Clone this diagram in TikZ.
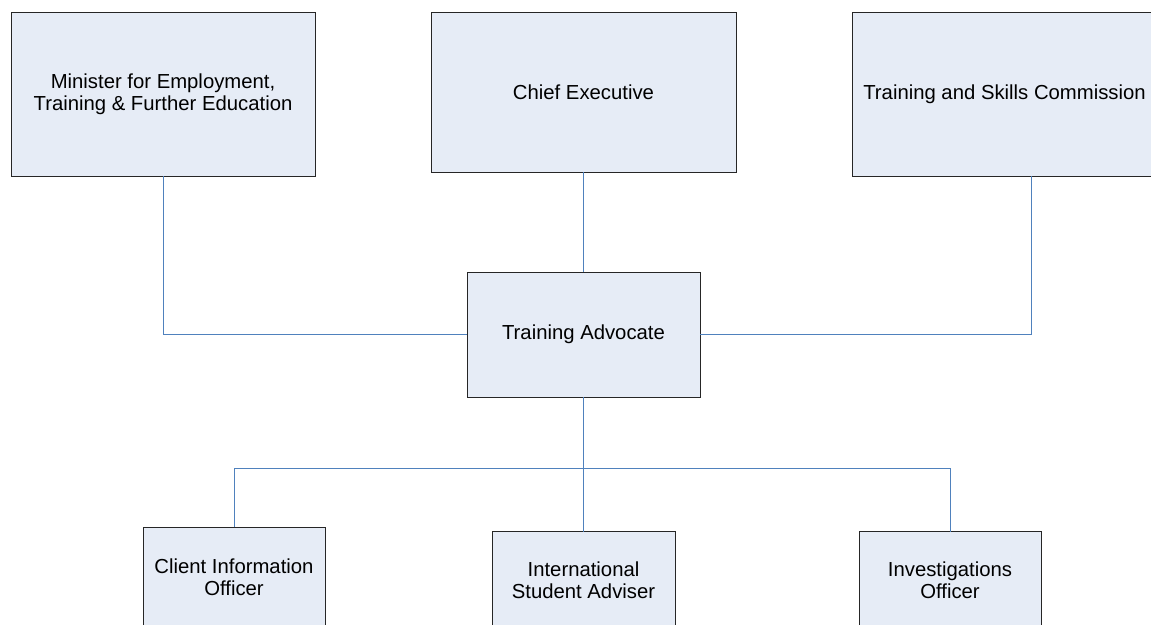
\documentclass[tikz,border=0pt]{standalone}
\usepackage{fontspec}
\setmainfont{Liberation Sans}
\definecolor{boxfill}{HTML}{E6ECF6}
\definecolor{linkblue}{HTML}{4F81BD}
\definecolor{boxline}{HTML}{262626}
\begin{document}
\begin{tikzpicture}[x=1pt,y=-1pt,
  orgbox/.style={draw=boxline,fill=boxfill,line width=1pt,inner sep=0pt,outer sep=0pt,
    align=center,font=\fontsize{20.3}{22}\selectfont},
  link/.style={draw=linkblue,line width=0.9pt}]
\useasboundingbox[fill=white] (0,0) rectangle (1151,624);
% top row
\node[orgbox,minimum width=304,minimum height=164] (min) at (163,94)
  {Minister for Employment,\\Training \& Further Education};
\node[orgbox,minimum width=305,minimum height=160] (ce) at (583.5,92) {Chief Executive};
\node[orgbox,minimum width=305,minimum height=164] (tsc) at (1004.5,94) {Training and Skills Commission};
% middle
\node[orgbox,minimum width=233,minimum height=125] (ta) at (583.5,334.5) {Training Advocate};
% bottom row
\node[orgbox,minimum width=182,minimum height=100] (cio) at (234,577) {Client Information\\Officer};
\node[orgbox,minimum width=183,minimum height=97] (isa) at (583.5,580) {International\\Student Adviser};
\node[orgbox,minimum width=182,minimum height=97] (io) at (950,580) {Investigations\\Officer};
% connectors
\coordinate (tscout) at (1031,176);
\coordinate (bus) at (583.5,468);
\draw[link] (min.south) |- (ta.west);
\draw[link] (ce.south) -- (ta.north);
\draw[link] (tscout) |- (ta.east);
\draw[link] (ta.south) -- (bus);
\draw[link] (bus) -| (cio.north);
\draw[link] (bus) -| (io.north);
\draw[link] (bus) -- (isa.north);
\end{tikzpicture}
\end{document}
